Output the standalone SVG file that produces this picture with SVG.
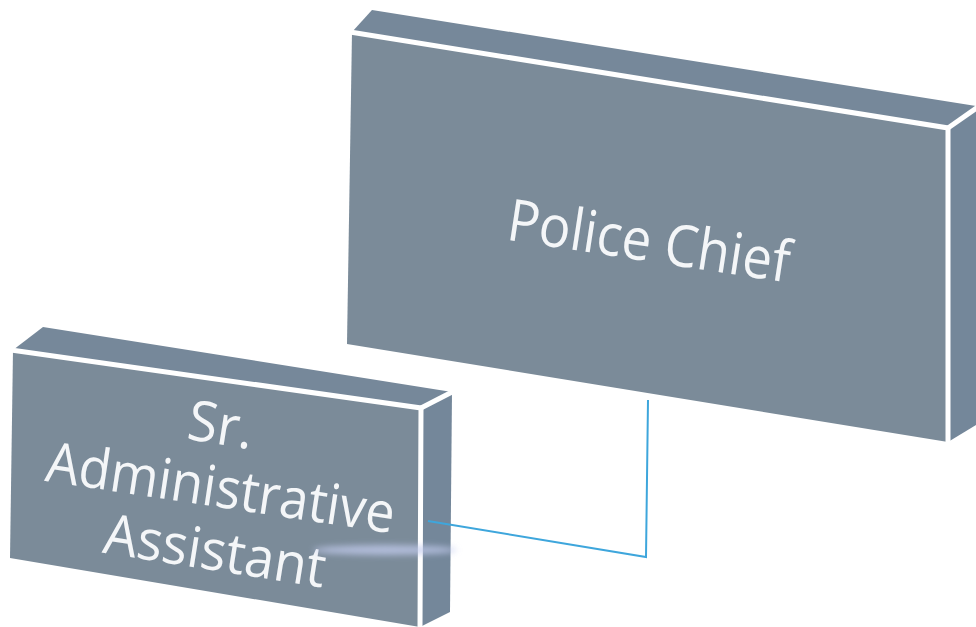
<svg xmlns="http://www.w3.org/2000/svg" width="976" height="627" viewBox="0 0 976 627">
<defs>
<style>
.face{fill:#7b8b99;}
.top{fill:#76889a;}
.side{fill:#74879a;}
.edge{fill:none;stroke:#ffffff;stroke-width:5;stroke-linejoin:miter;}
.lbl{font-family:"Open Sans","Liberation Sans",sans-serif;fill:#f4f6f8;text-anchor:middle;}
.conn{fill:none;stroke:#3ea6dc;stroke-width:2;}
</style>
<filter id="blur" x="-50%" y="-200%" width="200%" height="500%"><feGaussianBlur stdDeviation="3"/></filter>
</defs>
<rect width="976" height="627" fill="#ffffff"/>
<g id="police-chief">
<polygon class="top" points="352,32 372,10 976,106 976,110 948,128"/>
<polygon class="side" points="948,128 976,110 976,425 948,442"/>
<polygon class="face" points="352,32 948,128 948,442 347,344"/>
<polyline class="edge" points="350,32 948,128 948,444"/>
<line class="edge" x1="948" y1="128" x2="978" y2="107"/>
<text class="lbl" x="646" y="261" font-size="58" textLength="285" lengthAdjust="spacingAndGlyphs" transform="rotate(8.7 646 261)">Police Chief</text>
</g>
<g id="sr-administrative-assistant">
<polygon class="top" points="13,350 43,327 452,392 421,408"/>
<polygon class="side" points="421,408 452,392 450,612 420,627"/>
<polygon class="face" points="13,350 421,408 420,627 10,558"/>
<polyline class="edge" points="11,350 421,408 420,627"/>
<line class="edge" x1="421" y1="408" x2="454" y2="391"/>
<text class="lbl" x="218" y="444" font-size="56" textLength="66" lengthAdjust="spacingAndGlyphs" transform="rotate(9 218 444)">Sr.</text>
<text class="lbl" x="218" y="507" font-size="56" textLength="352" lengthAdjust="spacingAndGlyphs" transform="rotate(8.6 218 507)">Administrative</text>
<text class="lbl" x="212" y="570" font-size="56" textLength="224" lengthAdjust="spacingAndGlyphs" transform="rotate(9 212 570)">Assistant</text>
<ellipse cx="385" cy="550" rx="72" ry="5" fill="#c4cdf0" opacity="0.75" filter="url(#blur)"/>
</g>
<g id="connectors">
<polyline class="conn" points="648,400 646,557 428,521"/>
</g>
</svg>
